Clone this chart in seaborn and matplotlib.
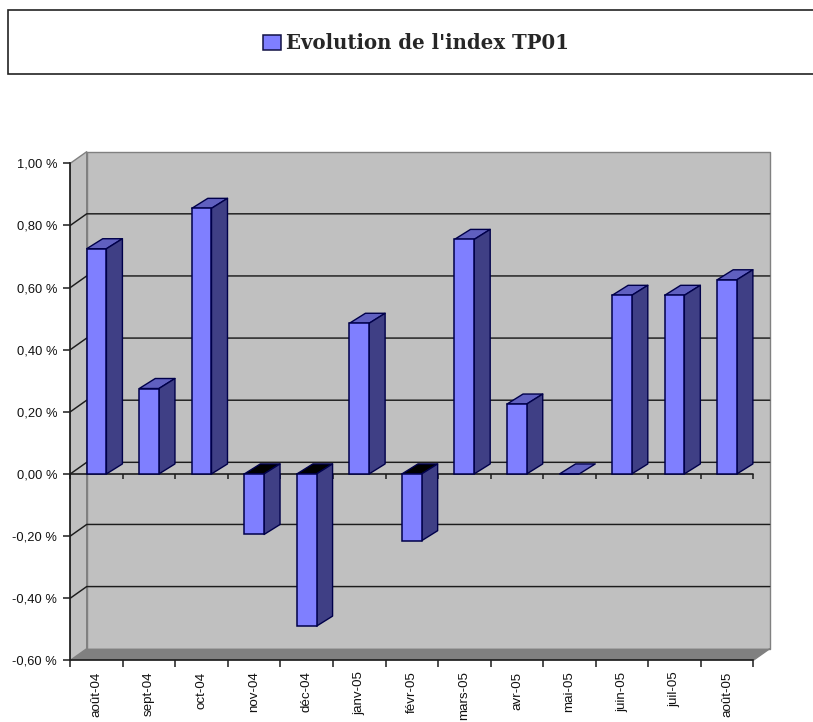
import numpy as np
import pandas as pd
import matplotlib
matplotlib.use("Agg")
import matplotlib.pyplot as plt
from matplotlib.patches import Polygon, Rectangle
import seaborn as sns

months = ["août-04", "sept-04", "oct-04", "nov-04", "déc-04", "janv-05", "févr-05",
          "mars-05", "avr-05", "mai-05", "juin-05", "juil-05", "août-05"]
values = [0.725, 0.275, 0.855, -0.195, -0.49, 0.485, -0.215,
          0.755, 0.225, 0.0, 0.575, 0.575, 0.625]
y_ticks = [1.0, 0.8, 0.6, 0.4, 0.2, 0.0, -0.2, -0.4, -0.6]
series_name = "Evolution de l'index TP01"

FACE, SIDE, TOP, INNER = "#7F7FFF", "#3F3F85", "#6060C0", "#000000"
WALL, FLOOR, EDGE, LINE, BAR_EDGE = "#C0C0C0", "#808080", "#808080", "#1c1c1c", "#00004a"

sns.set_style("white")
plt.rcParams["font.family"] = ["Liberation Sans", "DejaVu Sans"]

W, H = 813, 722
fig = plt.figure(figsize=(W / 100, H / 100), dpi=100, facecolor="white")
L, R, T, B = 70.3, 753.3, 163.3, 660.3
ax = fig.add_axes([L / W, (H - B) / H, (R - L) / W, (B - T) / H])
ax.set_facecolor("none")

df = pd.DataFrame({"mois": months, "valeur": values})
sns.barplot(data=df, x="mois", y="valeur", order=months, color=FACE, saturation=1,
            width=0.375, edgecolor=BAR_EDGE, linewidth=1.1, zorder=6, ax=ax,
            label=series_name)
handles, labels = ax.get_legend_handles_labels()
if ax.get_legend() is not None:
    ax.get_legend().remove()
x0, x1 = -0.5, len(months) - 0.5
y0, y1 = y_ticks[-1], y_ticks[0]
ax.set_xlim(x0, x1)
ax.set_ylim(y0, y1)

px_x = (x1 - x0) / (R - L)
px_y = (y1 - y0) / (B - T)
wall_dx, wall_dy = 16.4 * px_x, 11.6 * px_y
bar_dx, bar_dy = 16 * px_x, 10 * px_y
half = 0.375 / 2


def poly(pts, fc, ec="none", lw=0.0, z=1):
    ax.add_patch(Polygon(pts, closed=True, facecolor=fc, edgecolor=ec, linewidth=lw,
                         zorder=z, clip_on=False, joinstyle="round"))


# Walls and floor
poly([(x0 + wall_dx, y0 + wall_dy), (x1 + wall_dx, y0 + wall_dy),
      (x1 + wall_dx, y1 + wall_dy), (x0 + wall_dx, y1 + wall_dy)], WALL, EDGE, 1.0, 1)
poly([(x0, y0), (x0 + wall_dx, y0 + wall_dy), (x0 + wall_dx, y1 + wall_dy), (x0, y1)],
     WALL, EDGE, 1.0, 1)
poly([(x0, y0), (x1, y0), (x1 + wall_dx, y0 + wall_dy), (x0 + wall_dx, y0 + wall_dy)],
     FLOOR, "none", 0, 2)

# Gridlines running over the side wall and the back wall
for v in y_ticks[1:-1]:
    ax.plot([x0, x0 + wall_dx, x1 + wall_dx], [v, v + wall_dy, v + wall_dy],
            color=LINE, lw=1.05, zorder=3, clip_on=False)

# Category axis at zero and at the bottom, with ticks between the categories
bounds = np.arange(x0, x1 + 0.5)
ax.plot([x0, x1], [0, 0], color=LINE, lw=1.2, zorder=4, clip_on=False)
ax.vlines(bounds, 0, -5 * px_y, color=LINE, lw=1.1, zorder=4, clip_on=False)
ax.plot([x1, x1 + wall_dx], [y0, y0 + wall_dy], color=EDGE, lw=1.0, zorder=3, clip_on=False)

# Depth of the bars
for i, v in enumerate(values):
    a, b = i - half, i + half
    top_col = INNER if v < 0 else TOP
    level = max(v, 0)
    poly([(a, level), (b, level), (b + bar_dx, level + bar_dy), (a + bar_dx, level + bar_dy)],
         top_col, BAR_EDGE, 1.0, 5)
    if v != 0:
        poly([(b, 0 if v < 0 else v), (b, v if v < 0 else 0),
              (b + bar_dx, (v if v < 0 else 0) + bar_dy),
              (b + bar_dx, (0 if v < 0 else v) + bar_dy)], SIDE, BAR_EDGE, 1.0, 5)

# Axes dressing
for s in ("top", "right"):
    ax.spines[s].set_visible(False)
for s in ("left", "bottom"):
    ax.spines[s].set_color(LINE)
    ax.spines[s].set_linewidth(1.2)
    ax.spines[s].set_zorder(7)
ax.set_xlabel("")
ax.set_ylabel("")
ax.set_yticks(y_ticks)
ax.set_yticklabels([f"{v:.2f} %".replace(".", ",") for v in y_ticks])
ax.tick_params(axis="y", left=True, length=5, width=1.1, color=LINE, pad=4.5,
               labelsize=9.3, labelcolor="#111111")
ax.set_xticks(np.arange(len(months)))
ax.set_xticklabels(months, rotation=90)
ax.tick_params(axis="x", which="major", bottom=False, length=0, pad=8, labelsize=9.6,
               labelcolor="#111111")
ax.set_xticks(bounds, minor=True)
ax.tick_params(axis="x", which="minor", bottom=True, length=5, width=1.1, color=LINE)

# Legend box running off the right edge of the picture
fig.add_artist(Rectangle((7.5 / W, 1 - 73.5 / H), (W + 20) / W, 63.5 / H,
                         transform=fig.transFigure, facecolor="white",
                         edgecolor="#222222", linewidth=1.2))
leg = fig.legend(handles, labels, loc="center left", bbox_to_anchor=(263 / W, 1 - 43 / H),
                 frameon=False, handlelength=0.89, handleheight=0.81, handletextpad=0.3,
                 borderpad=0, borderaxespad=0,
                 prop={"family": "DejaVu Serif", "weight": "bold", "size": 14.2})
leg.get_patches()[0].set_edgecolor("#111144")

fig.savefig("out.png", dpi=100, facecolor="white")
